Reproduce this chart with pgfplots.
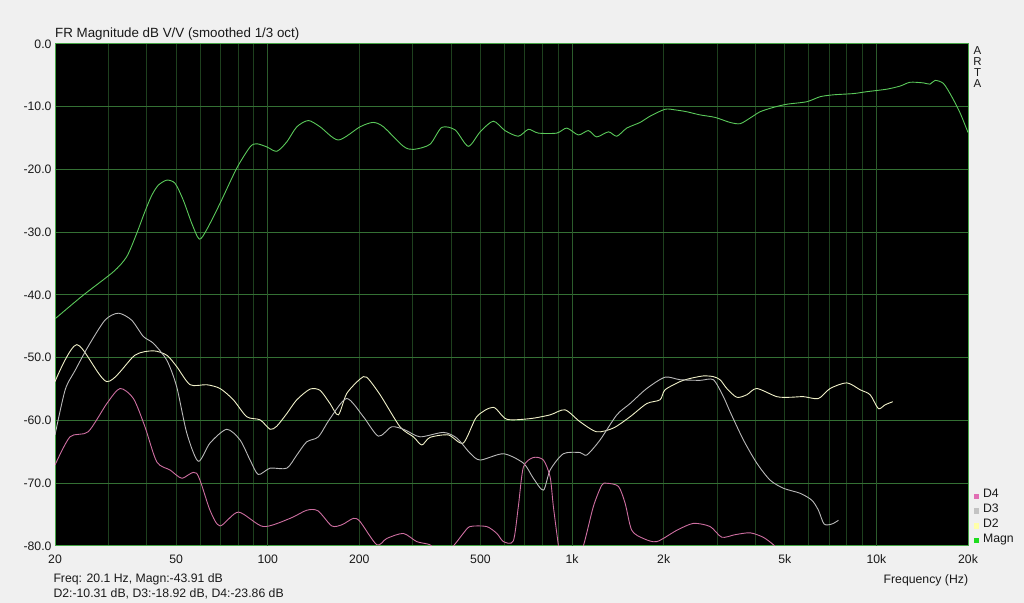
\documentclass[border=0pt]{standalone}
\usepackage{fontspec}
\setmainfont{Liberation Sans}
\usepackage{pgfplots}
\pgfplotsset{compat=1.18}
\definecolor{bgc}{RGB}{240,240,240}
\definecolor{magn}{RGB}{90,200,90}
\definecolor{dtwo}{RGB}{240,240,200}
\definecolor{dthree}{RGB}{185,185,185}
\definecolor{dfour}{RGB}{205,110,160}
\definecolor{gridg}{RGB}{30,64,30}
\definecolor{gridd}{RGB}{44,92,44}
\definecolor{gridh}{RGB}{52,112,52}
\definecolor{frameg}{RGB}{70,165,70}
\definecolor{txt}{RGB}{25,25,25}
\definecolor{lgDf}{RGB}{225,110,180}
\definecolor{lgDt}{RGB}{195,195,195}
\definecolor{lgDw}{RGB}{255,255,170}
\definecolor{lgMg}{RGB}{30,220,30}
\begin{document}
\begin{tikzpicture}[font=\fontsize{12.3}{14}\selectfont, text=txt]
\fill[bgc] (0,0) rectangle (1024bp,603bp);
\begin{axis}[
  at={(55bp,57bp)}, anchor=south west,
  scale only axis, width=913bp, height=502bp,
  xmode=log, xmin=20, xmax=20000, ymin=-80, ymax=0,
  axis background/.style={fill=black},
  axis line style={draw=frameg, line width=1bp},
  tick style={draw=none}, major tick length=0pt, minor tick length=0pt,
  xtick={20,30,40,50,60,70,80,90,100,200,300,400,500,600,700,800,900,1000,2000,3000,4000,5000,6000,7000,8000,9000,10000,20000},
  xticklabels={20,,,50,,,,,100,200,,,500,,,,,1k,2k,,,5k,,,,,10k,20k},
  minor xtick={},
  extra x ticks={100,1000,10000},
  extra x tick labels={,,},
  extra x tick style={grid=major, x grid style={draw=gridd, line width=1bp}},
  ytick={-80,-70,-60,-50,-40,-30,-20,-10,0},
  yticklabels={-80.0,-70.0,-60.0,-50.0,-40.0,-30.0,-20.0,-10.0,0.0},
  xmajorgrids, ymajorgrids,
  x grid style={draw=gridg, line width=0.9bp},
  y grid style={draw=gridh, line width=1bp},
  tick label style={font=\fontsize{12.3}{14}\selectfont, text=txt},
  xticklabel style={inner sep=0pt, text height=8.8bp, text depth=0pt, anchor=north},
  xticklabel shift=9bp,
  yticklabel style={inner sep=0pt, anchor=east},
  yticklabel shift=3.3bp,
  legend style={draw=none, fill=none, at={(1,0)}, anchor=south west, xshift=6bp, yshift=-2.1bp,
    inner sep=0pt, outer sep=0pt, row sep=0pt, column sep=3.7bp,
    nodes={inner sep=0pt, text height=8.8bp, text depth=6bp},
    font=\fontsize{12.3}{14}\selectfont},
  legend cell align=left,
  legend image code/.code={\fill[#1, draw=none] (0bp,-2.7bp) rectangle (5.4bp,2.7bp);},
]
% Magnitude
\addplot[magn, line width=0.9bp, smooth, tension=0.45, forget plot] coordinates {
(20,-43.8) (24.8,-40.0) (31.1,-36.3) (34.4,-33.9) (37.1,-30.2) (39.5,-26.7) (41.6,-24.1)
(43.7,-22.5) (46.6,-21.7) (49.6,-22.2) (52.8,-24.9) (56.3,-28.6) (59.6,-31.1) (63.0,-29.6)
(69.7,-25.4) (79.1,-19.8) (87.5,-16.4) (92.0,-15.9) (99.3,-16.4) (107.1,-17.1) (115.5,-15.6)
(124.6,-13.2) (136.0,-12.2) (148.6,-13.2) (170.6,-15.3) (201,-13.2) (222,-12.5) (240,-13.2)
(279,-16.3) (301,-16.8) (341,-16.0) (373,-13.3) (413,-13.7) (456,-16.3) (499,-14.0)
(551,-12.3) (602,-13.8) (666,-14.7) (719,-13.6) (775,-14.2) (891,-14.2) (961,-13.4)
(1049,-14.5) (1131,-13.8) (1205,-14.8) (1317,-14.0) (1403,-14.7) (1513,-13.4) (1673,-12.5)
(1805,-11.5) (2021,-10.4) (2180,-10.5) (2382,-10.8) (2634,-11.3) (2952,-11.7) (3305,-12.5)
(3566,-12.7) (3845,-11.8) (4148,-10.8) (4588,-10.1) (5076,-9.6) (5905,-9.2) (6533,-8.4)
(7225,-8.1) (8406,-7.9) (9298,-7.6) (10820,-7.2) (11970,-6.7) (12900,-6.1) (14270,-6.2)
(15010,-6.4) (15590,-5.8) (16610,-6.3) (17690,-8.4) (18840,-11.0) (20000,-14.1)
};
% D2
\addplot[dtwo, line width=0.9bp, smooth, tension=0.45, forget plot] coordinates {
(20,-53.8) (23.6,-47.9) (29.6,-53.8) (36.6,-49.6) (42.1,-48.9) (46.6,-49.6) (50.2,-51.4)
(55.6,-54.3) (63.0,-54.3) (69.7,-54.9) (77.1,-56.7) (85.3,-59.4) (94.4,-59.9) (101.8,-61.4)
(107.1,-60.9) (115.5,-58.9) (124.6,-56.7) (137.7,-55.0) (148.6,-55.2) (160.2,-57.3)
(170.6,-59.1) (181.8,-55.7) (201,-53.4) (211.4,-53.1) (234,-55.9) (272,-61.0) (301,-62.6)
(320.8,-63.9) (341,-62.7) (392,-62.3) (439,-63.6) (486,-59.4) (551,-57.9) (610,-59.8)
(728,-59.7) (847,-59.1) (948,-58.3) (1062,-60.2) (1205,-61.8) (1367,-61.2) (1551,-59.4)
(1760,-57.3) (1946,-56.7) (2021,-55.1) (2264,-53.8) (2443,-53.3) (2696,-52.9) (2906,-53.0)
(3064,-53.5) (3225,-54.9) (3478,-56.3) (3751,-55.9) (4046,-54.9) (4706,-56.2) (5206,-56.3)
(5758,-56.2) (6449,-56.5) (7046,-54.9) (7992,-54.0) (8840,-55.1) (9538,-55.9) (10150,-58.1)
(10680,-57.5) (11320,-57.0)
};
% D3
\addplot[dthree, line width=0.9bp, smooth, tension=0.45, forget plot] coordinates {
(20,-62.3) (21.6,-55.1) (23.3,-52.0) (25.7,-48.2) (29.2,-44.0) (32.3,-42.9) (35.7,-44.0)
(39.0,-46.6) (42.1,-47.7) (46.6,-50.4) (50.2,-54.6) (54.2,-62.0) (59.1,-66.5) (64.6,-63.6)
(73.3,-61.4) (81.1,-63.1) (87.5,-66.3) (93.1,-68.6) (101.8,-67.6) (115.5,-67.6) (124.6,-65.5)
(134.3,-63.4) (146.7,-62.6) (160.2,-59.7) (181.8,-56.5) (206.2,-59.4) (231,-62.5) (255.6,-61.0)
(282.6,-61.5) (316.6,-62.6) (377.6,-61.9) (418,-62.8) (462,-65.2) (499,-66.3) (595,-65.3)
(692,-66.8) (746,-69.2) (805,-71.1) (847,-67.9) (936,-65.3) (1062,-65.1) (1118,-65.5)
(1236,-63.1) (1403,-59.1) (1551,-57.3) (1760,-54.9) (2021,-53.1) (2264,-53.5) (2634,-53.6)
(2912,-53.5) (3142,-56.2) (3305,-58.6) (3656,-63.1) (4046,-66.8) (4474,-69.5) (4948,-70.8)
(5614,-71.6) (6134,-72.7) (6449,-74.3) (6732,-76.5) (7138,-76.5) (7504,-75.9)
};
% D4
\addplot[dfour, line width=0.9bp, smooth, tension=0.45, forget plot] coordinates {
(20,-67.1) (22.4,-62.6) (25.7,-61.8) (29.6,-57.3) (32.7,-54.9) (36.2,-56.5) (39.5,-61.0)
(43.2,-66.6) (47.8,-67.9) (52.2,-69.2) (58.4,-68.4) (64.6,-74.3) (69.7,-76.8) (80.1,-74.6)
(96.7,-76.9) (118.4,-75.6) (134.3,-74.3) (146.3,-74.4) (162.3,-76.8) (175.5,-76.6)
(191.1,-75.6) (201,-76.1) (228.2,-79.8) (246,-78.8) (279,-78.0) (308.8,-79.3) (341,-79.8)
(368,-81.0) (403,-80.2) (439,-78.0) (462,-76.9) (524,-76.9) (566,-78.0) (595,-79.3)
(641,-79.2) (666,-73.7) (692,-67.4) (746,-65.9) (805,-66.3) (847,-69.0) (868,-73.7)
(902,-80.0) (920,-83) (1023,-83) (1089,-80.0) (1175,-73.7) (1252,-70.3) (1300,-70.0)
(1420,-70.5) (1494,-73.2) (1571,-77.5) (1715,-78.8) (1899,-79.3) (2208,-77.5) (2504,-76.4)
(2842,-76.9) (3104,-78.6) (3432,-78.2) (3845,-77.9) (4243,-78.6) (4588,-79.8) (4826,-81.0)
};
\addlegendimage{fill=lgDf}\addlegendentry{D4}
\addlegendimage{fill=lgDt}\addlegendentry{D3}
\addlegendimage{fill=lgDw}\addlegendentry{D2}
\addlegendimage{fill=lgMg}\addlegendentry{Magn}
\end{axis}
\node[anchor=base west, inner sep=0pt, font=\fontsize{13.4}{15}\selectfont] at (55bp,565.1bp) {FR Magnitude dB V/V (smoothed 1/3 oct)};
\node[anchor=north, align=center, inner sep=0pt, font=\fontsize{11.5}{11}\selectfont] at (977.5bp,556.2bp) {A\\R\\T\\A};
\node[anchor=base west, inner sep=0pt] at (53.3bp,20.9bp) {Freq: 20.1 Hz, Magn:-43.91 dB};
\node[anchor=base west, inner sep=0pt] at (53.3bp,5.9bp) {D2:-10.31 dB, D3:-18.92 dB, D4:-23.86 dB};
\node[anchor=base east, inner sep=0pt] at (968.3bp,19.2bp) {Frequency (Hz)};
\end{tikzpicture}
\end{document}
